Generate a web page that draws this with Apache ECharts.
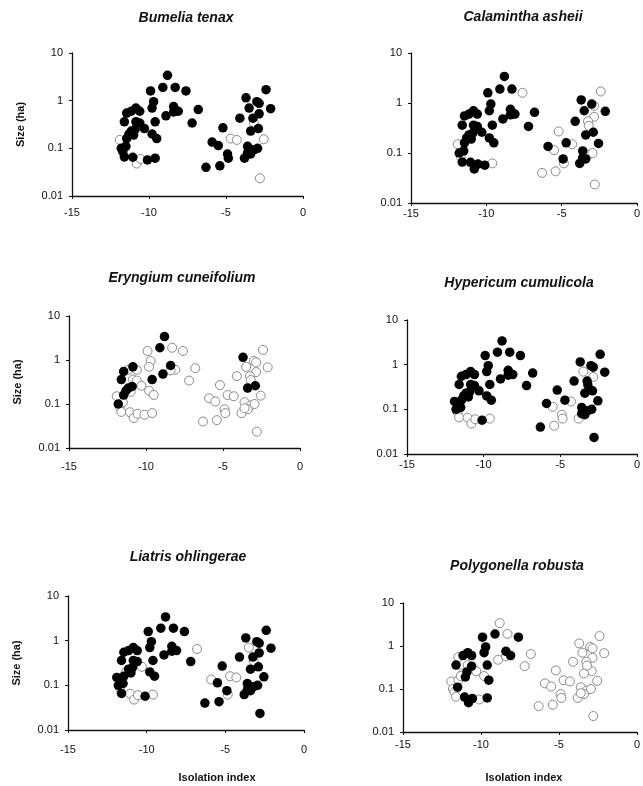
<!DOCTYPE html>
<html><head><meta charset="utf-8">
<script src="https://cdn.jsdelivr.net/npm/echarts@6/dist/echarts.min.js"></script>
<style>html,body{margin:0;padding:0;background:#fff}#c{width:643px;height:786px}</style>
</head><body><div id="c"></div>
<script>
// Patch isolation index (x) and size in ha (y) – same patches in every panel
const patchIsolation = [
 -11.9,-11.8,-11.7,-11.6,-11.5,-11.45,-11.6,-11.45,-11.15,-10.85,
 -10.6,-10.85,-10.6,-11.15,-10.9,-11.0,-11.3,-11.05,-10.8,-10.55,
 -10.1,-9.6,-10.3,-9.8,-9.5,-9.6,-9.9,-9.7,-9.8,-9.1,
 -8.8,-8.3,-7.6,-8.9,-8.4,-8.1,-8.4,-6.8,-7.2,-2.4,
 -3.7,-3.0,-2.85,-2.1,-3.5,-2.85,-4.1,-3.25,-2.9,-3.4,
 -5.2,-5.9,-5.5,-4.9,-4.85,-5.4,-6.3,-3.6,-3.2,-3.4,
 -3.8,-2.95,-3.6,-4.7,-4.3,-2.55,-2.8,-3.2
];
const patchSize = [
 0.15,0.10,0.085,0.066,0.11,0.16,0.36,0.55,0.6,0.7,
 0.6,0.36,0.34,0.23,0.25,0.19,0.2,0.065,0.048,0.06,
 0.057,0.062,0.26,0.2,0.16,0.36,1.6,0.95,0.7,1.9,
 3.4,1.9,1.6,0.48,0.75,0.6,0.58,0.65,0.34,1.7,
 1.15,0.95,0.88,0.68,0.7,0.53,0.43,0.43,0.26,0.23,
 0.27,0.135,0.114,0.076,0.062,0.043,0.04,0.11,0.093,0.076,
 0.062,0.1,0.08,0.16,0.15,0.155,0.0235,0.35
];
const speciesNames = ['Bumelia tenax','Calamintha asheii','Eryngium cuneifolium','Hypericum cumulicola','Liatris ohlingerae','Polygonella robusta'];
// indices of patches where each species is present (filled circles)
const presentBumelia = [1,2,3,4,5,6,7,8,9,10,11,12,13,14,15,16,17,20,21,22,23,24,25,26,27,28,29,30,31,32,33,34,35,36,37,38,39,40,41,42,43,44,45,46,47,48,49,50,51,52,53,54,55,56,57,58,59,60,61,62];
const presentCalamintha = [1,3,4,5,6,7,8,9,10,11,12,13,14,15,16,17,18,19,20,22,23,24,25,26,27,28,29,30,31,33,34,35,36,37,38,40,41,43,44,46,48,49,51,53,57,59,60,62,63,65];
const presentEryngium = [1,5,6,7,9,13,14,16,25,29,30,33,34,40,48,49];
const presentHypericum = [0,1,4,5,6,7,8,9,10,11,12,13,14,15,16,20,22,23,24,25,26,27,28,29,30,31,32,33,34,35,36,37,38,39,40,41,42,43,46,47,48,49,50,51,56,57,58,59,61,62,63,65,66,67];
const presentLiatris = [0,1,3,4,5,6,7,8,9,10,11,12,13,14,15,20,23,24,25,26,27,28,29,30,31,32,33,34,35,36,38,39,40,41,42,43,45,46,47,48,49,50,52,53,55,56,57,58,59,60,61,62,65,66];
const presentPolygonella = [4,6,8,9,10,12,14,15,17,18,19,21,24,25,26,27,28,29,32,34,35];
const xTickLabels = ['-15','-10','-5','0'];
const yTickLabels = ['0.01','0.1','1','10'];
const xAxisTitle = 'Isolation index';
const yAxisTitle = 'Size (ha)';

const presentLists = [presentBumelia,presentCalamintha,presentEryngium,presentHypericum,presentLiatris,presentPolygonella];

// layout (pixels)
const grids = [
 {left:72, top:53, width:231, height:143},
 {left:411,top:53, width:231, height:150},
 {left:69, top:316,width:231, height:132},
 {left:407,top:320,width:232, height:134},
 {left:68, top:596,width:236, height:134},
 {left:403,top:603,width:235, height:129}
];
const xLabelMargin = [11,5,13,5,14,7];
const titlePos = [[186,18],[523,17],[182,278],[519,283],[188,557],[517,566]];
const FONT = 'Liberation Sans, Arial, Helvetica, sans-serif';

const chart = echarts.init(document.getElementById('c'), null, {renderer:'canvas'});
const xAxes = [], yAxes = [], series = [], graphics = [];
grids.forEach((g,i)=>{
  const ax = {
    gridIndex:i, type:'value', min:-15, max:0, interval:5,
    axisLine:{show:true, onZero:false, lineStyle:{color:'#111', width:1.3}},
    axisTick:{show:true, length:3, lineStyle:{color:'#111'}},
    splitLine:{show:false},
    axisLabel:{fontFamily:FONT, fontSize:11, color:'#111', margin:xLabelMargin[i],
      formatter:v=>xTickLabels[Math.round((v+15)/5)]}
  };
  if (i>=4) {
    ax.name = xAxisTitle; ax.nameLocation='middle'; ax.nameGap = (i===4?42:40);
    ax.nameTextStyle = {fontFamily:FONT, fontSize:11, fontWeight:'bold', color:'#111',
      padding: i===4 ? [0,0,0,62] : [0,0,0,8]};
  }
  xAxes.push(ax);
  const ay = {
    gridIndex:i, type:'log', logBase:10, min:0.01, max:10,
    axisLine:{show:true, onZero:false, lineStyle:{color:'#111', width:1.3}},
    axisTick:{show:true, length:3, lineStyle:{color:'#111'}},
    splitLine:{show:false},
    axisLabel:{fontFamily:FONT, fontSize:11, color:'#111', margin:9,
      formatter:v=>yTickLabels[Math.round(Math.log10(v))+2]}
  };
  if (i%2===0) {
    ay.name = yAxisTitle; ay.nameLocation='middle'; ay.nameGap=46; ay.nameRotate=90;
    ay.nameTextStyle = {fontFamily:FONT, fontSize:11, fontWeight:'bold', color:'#111'};
  }
  yAxes.push(ay);
  const pres = new Set(presentLists[i]);
  const open = [], filled = [];
  patchIsolation.forEach((x,k)=>{ (pres.has(k)?filled:open).push([x, patchSize[k]]); });
  series.push({type:'scatter', xAxisIndex:i, yAxisIndex:i, data:open, symbol:'circle', symbolSize:9,
    itemStyle:{color:'#fff', borderColor:'#8a8a8a', borderWidth:1, opacity:1}, silent:true, z:2});
  series.push({type:'scatter', xAxisIndex:i, yAxisIndex:i, data:filled, symbol:'circle', symbolSize:9.5,
    itemStyle:{color:'#000', opacity:1}, silent:true, z:3});
  graphics.push({type:'text', x:titlePos[i][0], y:titlePos[i][1],
    style:{text:speciesNames[i], font:'italic bold 14px '+FONT, fill:'#111', align:'center', verticalAlign:'middle'}});
});

chart.setOption({
  animation:false,
  backgroundColor:'#fff',
  grid: grids.map(g=>Object.assign({containLabel:false}, g)),
  xAxis:xAxes, yAxis:yAxes, series:series, graphic:graphics
});
</script></body></html>
